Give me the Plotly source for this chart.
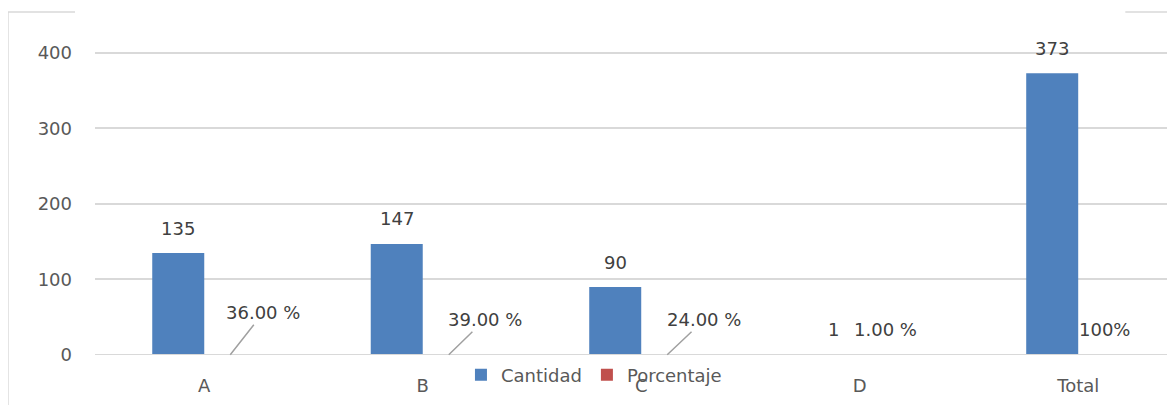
import plotly.graph_objects as go

categorias = ["A", "B", "C", "D", "Total"]
cantidad = [135, 147, 90, 1, 373]
porcentaje = [0.36, 0.39, 0.24, 0.01, 1.00]
etiquetas_pct = ["36.00 %", "39.00 %", "24.00 %", "1.00 %", "100%"]

# label placement (pixel offsets of the moved percentage labels; None = default position)
pct_offsets = [(33, -42), (36, -35), (37, -35), None, None]

AZUL = "#4F81BD"
ROJO = "#C0504D"
TXT = "#595959"
LBL = "#404040"
GRID = "#D9D9D9"
FONT = "DejaVu Sans"

fig = go.Figure()
fig.add_trace(go.Bar(name="Cantidad", x=categorias, y=cantidad, marker_color=AZUL,
                     marker_line_width=0))
fig.add_trace(go.Bar(name="Porcentaje", x=categorias, y=porcentaje, marker_color=ROJO,
                     marker_line_width=0))

annotations = []
for c, v in zip(categorias, cantidad):
    annotations.append(dict(x=c, y=v, xref="x", yref="y", text=str(v), showarrow=False,
                            xshift=-26, yshift=25, font=dict(family=FONT, size=18, color=LBL)))
for c, v, t, off in zip(categorias, porcentaje, etiquetas_pct, pct_offsets):
    if off is None:
        annotations.append(dict(x=c, y=v, xref="x", yref="y", text=t, showarrow=False,
                                xshift=26, yshift=25, font=dict(family=FONT, size=18, color=LBL)))
    else:
        annotations.append(dict(x=c, y=v, xref="x", yref="y", text=t, showarrow=True,
                                arrowhead=0, arrowwidth=1.5, arrowcolor="#A0A0A0",
                                xshift=26, ax=off[0], ay=off[1], standoff=0,
                                font=dict(family=FONT, size=18, color=LBL)))

shapes = [
    # chart frame fragments
    dict(type="line", xref="paper", yref="paper", x0=-0.0806, x1=-0.0806, y0=1.009, y1=-0.2,
         line=dict(color=GRID, width=1.5)),
    dict(type="line", xref="paper", yref="paper", x0=-0.0806, x1=-0.0185, y0=1.009, y1=1.009,
         line=dict(color=GRID, width=1.5)),
    dict(type="line", xref="paper", yref="paper", x0=0.954, x1=1.0, y0=1.009, y1=1.009,
         line=dict(color=GRID, width=1.5)),
    # baseline drawn above the bars (tiny bars are hidden by it, as in the reference)
    dict(type="line", xref="paper", yref="y", x0=0, x1=1, y0=0, y1=0, layer="above",
         line=dict(color=GRID, width=2)),
]

fig.update_layout(
    width=1167, height=397,
    margin=dict(l=87, r=0, t=7, b=50),
    paper_bgcolor="white", plot_bgcolor="white",
    barmode="group", bargap=0.524, bargroupgap=0,
    font=dict(family=FONT, size=18, color=TXT),
    showlegend=True,
    legend=dict(orientation="h", x=0.462, xanchor="center", y=-0.059, yanchor="middle",
                bgcolor="rgba(0,0,0,0)", font=dict(family=FONT, size=18, color=TXT),
                itemsizing="constant"),
    annotations=annotations,
    shapes=shapes,
)
fig.update_xaxes(range=[-0.5, 4.443], showgrid=False, showline=False, zeroline=False,
                 tickfont=dict(family=FONT, size=18, color=TXT), ticklabelstandoff=18)
fig.update_yaxes(range=[0, 450], tickvals=[0, 100, 200, 300, 400], showgrid=True,
                 gridcolor=GRID, gridwidth=1.5, zeroline=False,
                 showline=False, tickfont=dict(family=FONT, size=18, color=TXT),
                 ticklabelstandoff=22)

fig.write_html("out.html")
